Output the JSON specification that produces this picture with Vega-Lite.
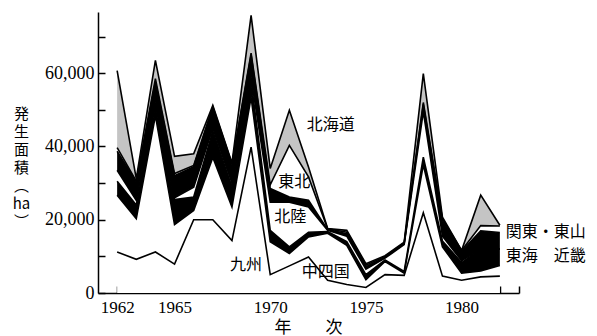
{
  "$schema": "https://vega.github.io/schema/vega-lite/v6.json",
  "width": 421,
  "height": 281,
  "autosize": {"type": "none"},
  "padding": {"left": 98, "top": 12, "right": 78, "bottom": 43},
  "background": "white",
  "config": {"view": {"stroke": null}, "axis": {"labelOverlap": false, "labelFlush": false, "grid": false}},
  "datasets": {
    "order": [
      {"region":"九州","rank":1},{"region":"中四国","rank":2},{"region":"東海・近畿","rank":3},{"region":"北陸","rank":4},{"region":"関東・東山","rank":5},{"region":"東北","rank":6},{"region":"北海道","rank":7}
    ],
    "regions": [
      {"year":1962,"region":"九州","area":11200},{"year":1962,"region":"中四国","area":15500},{"year":1962,"region":"東海・近畿","area":3800},{"year":1962,"region":"北陸","area":3000},{"year":1962,"region":"関東・東山","area":5200},{"year":1962,"region":"東北","area":1000},{"year":1962,"region":"北海道","area":21000},
      {"year":1963,"region":"九州","area":9200},{"year":1963,"region":"中四国","area":11100},{"year":1963,"region":"東海・近畿","area":3700},{"year":1963,"region":"北陸","area":1300},{"year":1963,"region":"関東・東山","area":5000},{"year":1963,"region":"東北","area":200},{"year":1963,"region":"北海道","area":700},
      {"year":1964,"region":"九州","area":11200},{"year":1964,"region":"中四国","area":37200},{"year":1964,"region":"東海・近畿","area":2800},{"year":1964,"region":"北陸","area":800},{"year":1964,"region":"関東・東山","area":5600},{"year":1964,"region":"東北","area":900},{"year":1964,"region":"北海道","area":5000},
      {"year":1965,"region":"九州","area":7900},{"year":1965,"region":"中四国","area":10800},{"year":1965,"region":"東海・近畿","area":6800},{"year":1965,"region":"北陸","area":500},{"year":1965,"region":"関東・東山","area":6000},{"year":1965,"region":"東北","area":600},{"year":1965,"region":"北海道","area":4700},
      {"year":1966,"region":"九州","area":20000},{"year":1966,"region":"中四国","area":2500},{"year":1966,"region":"東海・近畿","area":3700},{"year":1966,"region":"北陸","area":2700},{"year":1966,"region":"関東・東山","area":5600},{"year":1966,"region":"東北","area":300},{"year":1966,"region":"北海道","area":3200},
      {"year":1967,"region":"九州","area":20000},{"year":1967,"region":"中四国","area":17000},{"year":1967,"region":"東海・近畿","area":7200},{"year":1967,"region":"北陸","area":800},{"year":1967,"region":"関東・東山","area":5500},{"year":1967,"region":"東北","area":300},{"year":1967,"region":"北海道","area":400},
      {"year":1968,"region":"九州","area":14300},{"year":1968,"region":"中四国","area":9200},{"year":1968,"region":"東海・近畿","area":5500},{"year":1968,"region":"北陸","area":1000},{"year":1968,"region":"関東・東山","area":5000},{"year":1968,"region":"東北","area":300},{"year":1968,"region":"北海道","area":200},
      {"year":1969,"region":"九州","area":39800},{"year":1969,"region":"中四国","area":13600},{"year":1969,"region":"東海・近畿","area":4400},{"year":1969,"region":"北陸","area":1000},{"year":1969,"region":"関東・東山","area":6200},{"year":1969,"region":"東北","area":500},{"year":1969,"region":"北海道","area":10300},
      {"year":1970,"region":"九州","area":5000},{"year":1970,"region":"中四国","area":9000},{"year":1970,"region":"東海・近畿","area":3100},{"year":1970,"region":"北陸","area":7700},{"year":1970,"region":"関東・東山","area":3700},{"year":1970,"region":"東北","area":1000},{"year":1970,"region":"北海道","area":4500},
      {"year":1971,"region":"九州","area":7400},{"year":1971,"region":"中四国","area":3400},{"year":1971,"region":"東海・近畿","area":1800},{"year":1971,"region":"北陸","area":12200},{"year":1971,"region":"関東・東山","area":1400},{"year":1971,"region":"東北","area":14100},{"year":1971,"region":"北海道","area":9600},
      {"year":1972,"region":"九州","area":9800},{"year":1972,"region":"中四国","area":5500},{"year":1972,"region":"東海・近畿","area":1300},{"year":1972,"region":"北陸","area":6900},{"year":1972,"region":"関東・東山","area":1800},{"year":1972,"region":"東北","area":6400},{"year":1972,"region":"北海道","area":2700},
      {"year":1973,"region":"九州","area":3500},{"year":1973,"region":"中四国","area":12800},{"year":1973,"region":"東海・近畿","area":500},{"year":1973,"region":"北陸","area":300},{"year":1973,"region":"関東・東山","area":200},{"year":1973,"region":"東北","area":200},{"year":1973,"region":"北海道","area":100},
      {"year":1974,"region":"九州","area":2300},{"year":1974,"region":"中四国","area":10700},{"year":1974,"region":"東海・近畿","area":1000},{"year":1974,"region":"北陸","area":1500},{"year":1974,"region":"関東・東山","area":700},{"year":1974,"region":"東北","area":400},{"year":1974,"region":"北海道","area":500},
      {"year":1975,"region":"九州","area":1500},{"year":1975,"region":"中四国","area":2100},{"year":1975,"region":"東海・近畿","area":1400},{"year":1975,"region":"北陸","area":1500},{"year":1975,"region":"関東・東山","area":700},{"year":1975,"region":"東北","area":400},{"year":1975,"region":"北海道","area":400},
      {"year":1976,"region":"九州","area":5000},{"year":1976,"region":"中四国","area":3600},{"year":1976,"region":"東海・近畿","area":400},{"year":1976,"region":"北陸","area":500},{"year":1976,"region":"関東・東山","area":300},{"year":1976,"region":"東北","area":200},{"year":1976,"region":"北海道","area":200},
      {"year":1977,"region":"九州","area":4800},{"year":1977,"region":"中四国","area":600},{"year":1977,"region":"東海・近畿","area":500},{"year":1977,"region":"北陸","area":7300},{"year":1977,"region":"関東・東山","area":300},{"year":1977,"region":"東北","area":200},{"year":1977,"region":"北海道","area":200},
      {"year":1978,"region":"九州","area":21900},{"year":1978,"region":"中四国","area":13100},{"year":1978,"region":"東海・近畿","area":2100},{"year":1978,"region":"北陸","area":12400},{"year":1978,"region":"関東・東山","area":2000},{"year":1978,"region":"東北","area":500},{"year":1978,"region":"北海道","area":7900},
      {"year":1979,"region":"九州","area":4600},{"year":1979,"region":"中四国","area":8000},{"year":1979,"region":"東海・近畿","area":1600},{"year":1979,"region":"北陸","area":1300},{"year":1979,"region":"関東・東山","area":4200},{"year":1979,"region":"東北","area":500},{"year":1979,"region":"北海道","area":500},
      {"year":1980,"region":"九州","area":3500},{"year":1980,"region":"中四国","area":1900},{"year":1980,"region":"東海・近畿","area":2900},{"year":1980,"region":"北陸","area":500},{"year":1980,"region":"関東・東山","area":2600},{"year":1980,"region":"東北","area":200},{"year":1980,"region":"北海道","area":0},
      {"year":1981,"region":"九州","area":4400},{"year":1981,"region":"中四国","area":1600},{"year":1981,"region":"東海・近畿","area":6000},{"year":1981,"region":"北陸","area":0},{"year":1981,"region":"関東・東山","area":5000},{"year":1981,"region":"東北","area":1400},{"year":1981,"region":"北海道","area":8300},
      {"year":1982,"region":"九州","area":4600},{"year":1982,"region":"中四国","area":2900},{"year":1982,"region":"東海・近畿","area":4500},{"year":1982,"region":"北陸","area":0},{"year":1982,"region":"関東・東山","area":4500},{"year":1982,"region":"東北","area":1800},{"year":1982,"region":"北海道","area":200}
    ],
    "labels": [
      {"year":1973.16,"area":45760,"label":"北海道"},
      {"year":1971.25,"area":30200,"label":"東北"},
      {"year":1971.04,"area":20800,"label":"北陸"},
      {"year":1968.74,"area":7560,"label":"九州"},
      {"year":1972.9,"area":5800,"label":"中四国"},
      {"year":1984.4,"area":16700,"label":"関東・東山"},
      {"year":1984.4,"area":10150,"label":"東海　近畿"}
    ]
  },
  "encoding": {
    "x": {
      "field": "year", "type": "quantitative",
      "scale": {"domain": [1961, 1983], "nice": false, "zero": false},
      "axis": {
        "values": [1962,1963,1964,1965,1966,1967,1968,1969,1970,1971,1972,1973,1974,1975,1976,1977,1978,1979,1980,1981,1982,1983],
        "format": "d",
        "labelExpr": "indexof([1962,1965,1970,1975,1980], datum.value) >= 0 ? datum.label : ''",
        "labelOverlap": false, "labelFlush": false,
        "tickSize": -7, "tickWidth": 1.5, "tickColor": "black",
        "domainColor": "black", "domainWidth": 1.5, "grid": false,
        "labelFont": "Liberation Serif", "labelFontSize": 17, "labelColor": "black", "labelPadding": 13,
        "title": "年　　次", "titleFont": "Noto Sans CJK JP", "titleFontSize": 17, "titleFontWeight": "normal",
        "titleColor": "black", "titleX": 210, "titleY": 34, "titleBaseline": "middle", "titleAlign": "center"
      }
    }
  },
  "layer": [
    {
      "data": {"name": "regions"},
      "transform": [
        {"lookup": "region", "from": {"data": {"name": "order"}, "key": "region", "fields": ["rank"]}},
        {"stack": "area", "groupby": ["year"], "sort": [{"field": "rank", "order": "ascending"}], "as": ["lo", "hi"]}
      ],
      "layer": [
        {
          "mark": {"type": "area", "opacity": 1, "interpolate": "linear"},
          "encoding": {
            "y": {
              "field": "hi", "type": "quantitative",
              "scale": {"domain": [0, 76700], "nice": false},
              "axis": {
                "values": [0,10000,20000,30000,40000,50000,60000,70000],
                "format": ",d",
                "labelExpr": "datum.value % 20000 === 0 ? datum.label : ''",
                "labelOverlap": false, "labelFlush": false,
                "tickSize": -7, "tickWidth": 1.5, "tickColor": "black",
                "domainColor": "black", "domainWidth": 1.5, "grid": false,
                "labelFont": "Liberation Serif", "labelFontSize": 18, "labelColor": "black", "labelPadding": 11,
                "title": ["発","生","面","積","︵","ha","︶"],
                "titleFont": "Noto Sans CJK JP", "titleFontSize": 15, "titleFontWeight": "normal", "titleColor": "black",
                "titleAngle": 0, "titleX": -77, "titleY": 94, "titleAlign": "center", "titleBaseline": "top", "titleLineHeight": 18
              }
            },
            "y2": {"field": "lo"},
            "color": {
              "field": "region", "type": "nominal",
              "scale": {"domain": ["九州","中四国","東海・近畿","北陸","関東・東山","東北","北海道"], "range": ["white","white","black","white","black","white","#c4c4c4"]},
              "legend": null
            }
          }
        },
        {
          "mark": {"type": "line", "color": "black", "strokeWidth": 1.6, "interpolate": "linear"},
          "encoding": {
            "y": {"field": "hi", "type": "quantitative"},
            "detail": {"field": "region", "type": "nominal"}
          }
        }
      ]
    },
    {
      "data": {"name": "labels"},
      "mark": {"type": "text", "font": "Noto Sans CJK JP", "fontSize": 16, "color": "black", "align": "center", "baseline": "middle"},
      "encoding": {
        "y": {"field": "area", "type": "quantitative"},
        "text": {"field": "label"}
      }
    }
  ]
}
